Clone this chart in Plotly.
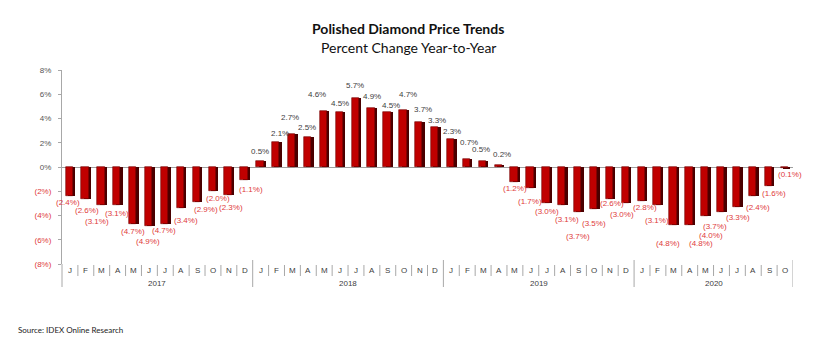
import plotly.graph_objects as go

# ---------------- data ----------------
years = ["2017", "2018", "2019", "2020"]
months_per_year = [12, 12, 12, 10]
month_letters = ["J", "F", "M", "A", "M", "J", "J", "A", "S", "O", "N", "D"]

values_2017 = [-2.4, -2.6, -3.1, -3.1, -4.7, -4.9, -4.7, -3.4, -2.9, -2.0, -2.3, -1.1]
values_2018 = [0.5, 2.1, 2.7, 2.5, 4.6, 4.5, 5.7, 4.9, 4.5, 4.7, 3.7, 3.3]
values_2019 = [2.3, 0.7, 0.5, 0.2, -1.2, -1.7, -3.0, -3.1, -3.7, -3.5, -2.6, -3.0]
values_2020 = [-2.8, -3.1, -4.8, -4.8, -4.0, -3.7, -3.3, -2.4, -1.6, -0.1]

y_ticks = [-8, -6, -4, -2, 0, 2, 4, 6, 8]

# label placement nudges (pixels): distance beyond bar end, horizontal shift
label_away = [6, 11.5, 16.5, 8.5, 8, 15, 7, 12, 7, 7, 13, 9,
              9, 8, 17, 9, 17, 8.5, 12, 11, 6.5, 16, 13, 6,
              8, 16.5, 11, 9.6, 6.5, 13.5, 8, 14.5, 25, 14, 5, 11,
              7, 15.5, 18, 18, 19.6, 15, 10, 11, 7, 6]
label_dx = [-2, 1, -5, -1, -1, -1, -1, 5, 9, 5, 2, 6,
            -1, 3, -2, -1, -7, 0, -1, 0, 3, 4, 3, 2,
            1, 2, -2, 3, 0, -1, 0, 4, 0, 0, 2, -4,
            3, -1, -6, 11, 5, -6, 1, 5, 5, 5]

values = values_2017 + values_2018 + values_2019 + values_2020
month_labels = []
for n in months_per_year:
    month_labels += month_letters[:n]
xs = list(range(len(values)))

# ---------------- geometry ----------------
W, H = 820, 352
L, R, T, B = 62, 27, 70, 88
PW = W - L - R
PH = H - T - B


def py(Y):
    return (H - B - Y) / PH


def px(X):
    return (X - L) / PW


RED = "#C00000"
DARK = "#4a0000"
NEG_TXT = "#E03A3A"
POS_TXT = "#404040"
FONT = "Arial"

fig = go.Figure()

# shadow (3D side)
fig.add_trace(go.Bar(x=xs, y=values, width=0.46, offset=-0.13,
                     marker=dict(color=DARK, line=dict(width=0)),
                     hoverinfo="skip", showlegend=False))
# front face
fig.add_trace(go.Bar(x=xs, y=values, width=0.46, offset=-0.28,
                     marker=dict(color=RED, line=dict(width=0.6, color="#700000")),
                     showlegend=False))

annotations = []
# data labels
for x, v, d, dx in zip(xs, values, label_away, label_dx):
    if v >= 0:
        txt = f"{v:.1f}%"
        col = POS_TXT
        ys = d
    else:
        txt = f"({abs(v):.1f}%)"
        col = NEG_TXT
        ys = -d
    annotations.append(dict(x=x, y=v, xref="x", yref="y", text=txt, showarrow=False,
                            yanchor="middle", xanchor="center", yshift=ys, xshift=dx,
                            font=dict(family=FONT, size=8, color=col)))

# month letters
for x, m in zip(xs, month_labels):
    annotations.append(dict(x=x, y=py(270), xref="x", yref="paper", text=m, showarrow=False,
                            yanchor="middle", font=dict(family=FONT, size=8, color="#404040")))

# year labels
start = 0
for yr, n in zip(years, months_per_year):
    mid = start + (n - 1) / 2
    annotations.append(dict(x=mid, y=py(283), xref="x", yref="paper", text=yr, showarrow=False,
                            yanchor="middle", font=dict(family=FONT, size=8, color="#404040")))
    start += n

# title and subtitle
annotations.append(dict(x=px(408), y=py(28), xref="paper", yref="paper",
                        text="<b>Polished Diamond Price Trends</b>", showarrow=False,
                        xanchor="center", yanchor="middle",
                        font=dict(family="Lato", size=14, color="#111111")))
annotations.append(dict(x=px(408), y=py(47), xref="paper", yref="paper",
                        text="Percent Change Year-to-Year", showarrow=False,
                        xanchor="center", yanchor="middle",
                        font=dict(family="Lato", size=14, color="#111111")))
# source
annotations.append(dict(x=px(16), y=py(330), xref="paper", yref="paper",
                        text="Source: IDEX Online Research", showarrow=False,
                        xanchor="left", yanchor="middle",
                        font=dict(family="Lato", size=8, color="#222222")))

# separators
shapes = []
year_bounds = []
acc = 0
for n in months_per_year:
    acc += n
    year_bounds.append(acc - 0.5)
for i in range(len(values) - 1):
    b = i + 0.5
    if b in year_bounds:
        continue
    shapes.append(dict(type="line", xref="x", yref="paper", x0=b, x1=b,
                       y0=py(265), y1=py(276), line=dict(color="#a8a8a8", width=1)))
for b in year_bounds:
    shapes.append(dict(type="line", xref="x", yref="paper", x0=b, x1=b,
                       y0=py(260), y1=py(287), line=dict(color="#a8a8a8", width=1)))
# extend y axis line downward
shapes.append(dict(type="line", xref="paper", yref="paper", x0=0, x1=0,
                   y0=py(287), y1=0, line=dict(color="#a8a8a8", width=1)))


def tick_text(v):
    if v < 0:
        return f"<span style='color:{NEG_TXT}'>({abs(v)}%)</span>"
    return f"{v}%"


fig.update_layout(
    width=W, height=H,
    margin=dict(l=L, r=R, t=T, b=B, pad=0),
    paper_bgcolor="white", plot_bgcolor="white",
    barmode="overlay",
    bargap=0,
    xaxis=dict(range=[-0.5, len(values) - 0.5], showticklabels=False, showgrid=False,
               zeroline=False, showline=False, ticks=""),
    yaxis=dict(range=[-8, 8], tickvals=y_ticks, ticktext=[tick_text(v) for v in y_ticks],
               showgrid=False, zeroline=True, zerolinecolor="#a0a0a0", zerolinewidth=1,
               showline=True, linecolor="#a8a8a8", linewidth=1,
               ticks="outside", ticklen=3, tickcolor="#a8a8a8",
               ticklabelstandoff=5,
               tickfont=dict(family=FONT, size=8, color="#555555")),
    annotations=annotations,
    shapes=shapes,
    font=dict(family=FONT),
)

fig.write_html("out.html")
